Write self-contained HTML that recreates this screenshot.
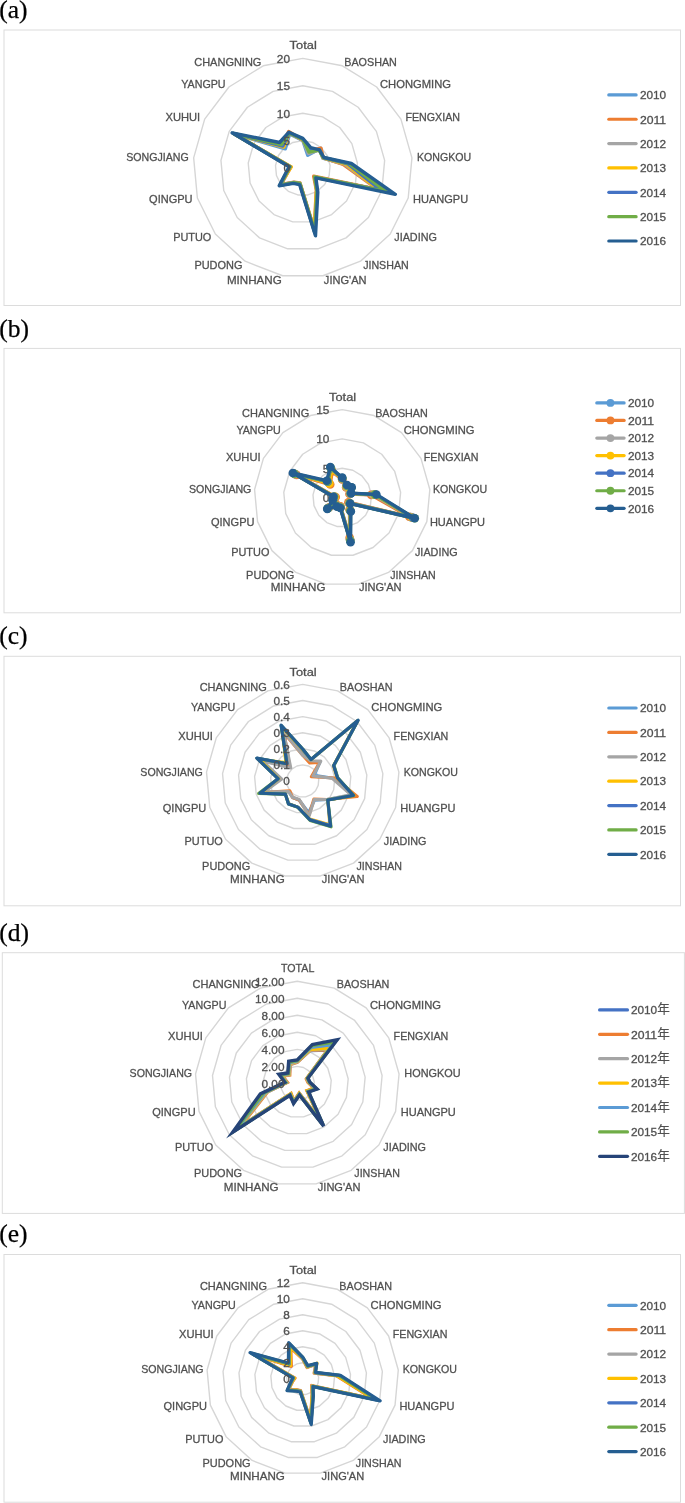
<!DOCTYPE html>
<html lang="en"><head><meta charset="utf-8"><title>Radar charts (a)-(e)</title>
<style>html,body{margin:0;padding:0;background:#fff}svg{display:block}</style></head><body>
<svg width="685" height="1503" viewBox="0 0 685 1503">
<rect width="685" height="1503" fill="#fff"/>
<rect x="4" y="30" width="676.5" height="275.5" fill="#fff" stroke="#DCDCDC" stroke-width="1"/>
<text x="-0.70" y="18.10" font-size="25.5" font-family='"Liberation Serif", serif' fill="#000" stroke="#000" stroke-width="0.25" text-anchor="start">(a)</text>
<polygon points="302.80,140.60 312.70,142.45 321.26,147.75 327.33,155.79 330.08,165.47 329.15,175.50 324.67,184.51 317.22,191.30 307.83,194.93 297.77,194.93 288.38,191.30 280.93,184.51 276.45,175.50 275.52,165.47 278.27,155.79 284.34,147.75 292.90,142.45" fill="none" stroke="#D6D6D6" stroke-width="1.4" stroke-linejoin="round"/>
<polygon points="302.80,113.20 322.60,116.90 339.72,127.50 351.85,143.57 357.37,162.94 355.51,183.00 346.53,201.02 331.65,214.59 312.87,221.87 292.73,221.87 273.95,214.59 259.07,201.02 250.09,183.00 248.23,162.94 253.75,143.57 265.88,127.50 283.00,116.90" fill="none" stroke="#D6D6D6" stroke-width="1.4" stroke-linejoin="round"/>
<polygon points="302.80,85.80 332.49,91.35 358.18,107.25 376.38,131.36 384.65,160.42 381.86,190.50 368.40,217.54 346.07,237.89 317.90,248.80 287.70,248.80 259.53,237.89 237.20,217.54 223.74,190.50 220.95,160.42 229.22,131.36 247.42,107.25 273.11,91.35" fill="none" stroke="#D6D6D6" stroke-width="1.4" stroke-linejoin="round"/>
<polygon points="302.80,58.40 342.39,65.80 376.64,87.00 400.91,119.15 411.93,157.89 408.22,197.99 390.26,234.05 360.50,261.18 322.94,275.73 282.66,275.73 245.10,261.18 215.34,234.05 197.38,197.99 193.67,157.89 204.69,119.15 228.96,87.00 263.21,65.80" fill="none" stroke="#D6D6D6" stroke-width="1.4" stroke-linejoin="round"/>
<polygon points="302.80,140.48 307.71,155.33 320.74,148.32 322.84,158.02 344.08,164.17 379.58,189.84 314.61,176.92 316.75,190.53 314.60,231.12 299.93,183.36 293.95,182.30 280.84,184.58 287.28,172.42 290.25,166.84 234.28,133.88 285.36,148.86 289.64,134.02" fill="none" stroke="#5B9BD5" stroke-width="3.4" stroke-linejoin="round" stroke-miterlimit="8"/>
<polygon points="302.80,140.18 309.53,150.63 320.91,148.14 323.26,157.81 343.11,164.26 377.73,189.32 313.69,176.22 316.30,189.81 314.22,229.09 299.99,183.03 294.04,182.15 281.07,184.41 287.96,172.22 291.07,166.91 234.28,133.88 281.87,145.04 288.67,131.51" fill="none" stroke="#ED7D31" stroke-width="3.4" stroke-linejoin="round" stroke-miterlimit="8"/>
<polygon points="302.80,139.89 308.50,153.28 319.41,149.78 322.84,158.02 344.56,164.13 378.65,189.58 314.87,177.11 316.75,190.53 314.60,231.12 299.90,183.53 293.85,182.45 280.60,184.76 287.28,172.42 290.25,166.84 233.57,133.53 283.26,146.57 289.50,133.66" fill="none" stroke="#A5A5A5" stroke-width="3.4" stroke-linejoin="round" stroke-miterlimit="8"/>
<polygon points="302.80,139.59 309.77,150.01 319.41,149.78 323.26,157.81 346.02,163.99 378.65,189.58 315.00,177.21 316.60,190.29 314.47,230.44 299.83,183.86 293.76,182.61 280.37,184.94 287.62,172.32 291.20,166.93 233.93,133.71 283.73,147.08 289.36,133.30" fill="none" stroke="#FFC000" stroke-width="3.4" stroke-linejoin="round" stroke-miterlimit="8"/>
<polygon points="302.80,139.30 310.08,149.20 319.41,149.78 323.47,157.71 347.96,163.81 380.96,190.24 315.26,177.41 317.20,191.26 314.98,233.16 299.80,184.03 293.66,182.76 280.13,185.12 286.78,172.56 289.98,166.81 233.22,133.35 282.80,146.06 289.36,133.30" fill="none" stroke="#4472C4" stroke-width="3.4" stroke-linejoin="round" stroke-miterlimit="8"/>
<polygon points="302.80,139.00 308.98,152.06 319.08,150.14 323.47,157.71 349.42,163.68 386.05,191.69 314.61,176.92 317.05,191.02 314.85,232.48 299.90,183.53 293.76,182.61 279.89,185.30 286.78,172.56 289.84,166.80 233.22,133.35 281.40,144.53 289.22,132.95" fill="none" stroke="#70AD47" stroke-width="3.4" stroke-linejoin="round" stroke-miterlimit="8"/>
<polygon points="302.80,138.41 310.72,147.56 319.41,149.78 323.89,157.50 351.36,163.50 395.30,194.32 315.92,177.91 317.80,192.23 315.49,235.87 299.68,184.70 293.28,183.38 279.19,185.83 285.93,172.80 289.16,166.74 232.16,132.83 279.54,142.49 288.94,132.23" fill="none" stroke="#255E91" stroke-width="3.4" stroke-linejoin="round" stroke-miterlimit="8"/>
<text x="290.00" y="172.30" font-size="11.8" font-family='"Liberation Sans", sans-serif' fill="#505050" stroke="#505050" stroke-width="0.3" text-anchor="end" textLength="6.56" lengthAdjust="spacingAndGlyphs">0</text>
<text x="290.00" y="144.90" font-size="11.8" font-family='"Liberation Sans", sans-serif' fill="#505050" stroke="#505050" stroke-width="0.3" text-anchor="end" textLength="6.56" lengthAdjust="spacingAndGlyphs">5</text>
<text x="290.00" y="117.50" font-size="11.8" font-family='"Liberation Sans", sans-serif' fill="#505050" stroke="#505050" stroke-width="0.3" text-anchor="end" textLength="13.13" lengthAdjust="spacingAndGlyphs">10</text>
<text x="290.00" y="90.10" font-size="11.8" font-family='"Liberation Sans", sans-serif' fill="#505050" stroke="#505050" stroke-width="0.3" text-anchor="end" textLength="13.13" lengthAdjust="spacingAndGlyphs">15</text>
<text x="290.00" y="62.70" font-size="11.8" font-family='"Liberation Sans", sans-serif' fill="#505050" stroke="#505050" stroke-width="0.3" text-anchor="end" textLength="13.13" lengthAdjust="spacingAndGlyphs">20</text>
<text x="303.20" y="48.80" font-size="11.8" font-family='"Liberation Sans", sans-serif' fill="#505050" stroke="#505050" stroke-width="0.3" text-anchor="middle" textLength="27.12" lengthAdjust="spacingAndGlyphs">Total</text>
<text x="344.20" y="65.50" font-size="11.8" font-family='"Liberation Sans", sans-serif' fill="#505050" stroke="#505050" stroke-width="0.3" text-anchor="start" textLength="52.71" lengthAdjust="spacingAndGlyphs">BAOSHAN</text>
<text x="380.01" y="87.55" font-size="11.8" font-family='"Liberation Sans", sans-serif' fill="#505050" stroke="#505050" stroke-width="0.3" text-anchor="start" textLength="70.94" lengthAdjust="spacingAndGlyphs">CHONGMING</text>
<text x="405.39" y="120.99" font-size="11.8" font-family='"Liberation Sans", sans-serif' fill="#505050" stroke="#505050" stroke-width="0.3" text-anchor="start" textLength="54.64" lengthAdjust="spacingAndGlyphs">FENGXIAN</text>
<text x="416.91" y="161.28" font-size="11.8" font-family='"Liberation Sans", sans-serif' fill="#505050" stroke="#505050" stroke-width="0.3" text-anchor="start" textLength="54.22" lengthAdjust="spacingAndGlyphs">KONGKOU</text>
<text x="413.03" y="203.00" font-size="11.8" font-family='"Liberation Sans", sans-serif' fill="#505050" stroke="#505050" stroke-width="0.3" text-anchor="start" textLength="55.12" lengthAdjust="spacingAndGlyphs">HUANGPU</text>
<text x="394.25" y="240.50" font-size="11.8" font-family='"Liberation Sans", sans-serif' fill="#505050" stroke="#505050" stroke-width="0.3" text-anchor="start" textLength="42.64" lengthAdjust="spacingAndGlyphs">JIADING</text>
<text x="363.13" y="268.72" font-size="11.8" font-family='"Liberation Sans", sans-serif' fill="#505050" stroke="#505050" stroke-width="0.3" text-anchor="start" textLength="45.62" lengthAdjust="spacingAndGlyphs">JINSHAN</text>
<text x="323.86" y="283.86" font-size="11.8" font-family='"Liberation Sans", sans-serif' fill="#505050" stroke="#505050" stroke-width="0.3" text-anchor="start" textLength="42.63" lengthAdjust="spacingAndGlyphs">JING'AN</text>
<text x="281.74" y="283.86" font-size="11.8" font-family='"Liberation Sans", sans-serif' fill="#505050" stroke="#505050" stroke-width="0.3" text-anchor="end" textLength="54.79" lengthAdjust="spacingAndGlyphs">MINHANG</text>
<text x="242.47" y="268.72" font-size="11.8" font-family='"Liberation Sans", sans-serif' fill="#505050" stroke="#505050" stroke-width="0.3" text-anchor="end" textLength="48.07" lengthAdjust="spacingAndGlyphs">PUDONG</text>
<text x="211.35" y="240.50" font-size="11.8" font-family='"Liberation Sans", sans-serif' fill="#505050" stroke="#505050" stroke-width="0.3" text-anchor="end" textLength="38.19" lengthAdjust="spacingAndGlyphs">PUTUO</text>
<text x="192.57" y="203.00" font-size="11.8" font-family='"Liberation Sans", sans-serif' fill="#505050" stroke="#505050" stroke-width="0.3" text-anchor="end" textLength="43.51" lengthAdjust="spacingAndGlyphs">QINGPU</text>
<text x="188.69" y="161.28" font-size="11.8" font-family='"Liberation Sans", sans-serif' fill="#505050" stroke="#505050" stroke-width="0.3" text-anchor="end" textLength="62.47" lengthAdjust="spacingAndGlyphs">SONGJIANG</text>
<text x="200.21" y="120.99" font-size="11.8" font-family='"Liberation Sans", sans-serif' fill="#505050" stroke="#505050" stroke-width="0.3" text-anchor="end" textLength="34.67" lengthAdjust="spacingAndGlyphs">XUHUI</text>
<text x="225.59" y="87.55" font-size="11.8" font-family='"Liberation Sans", sans-serif' fill="#505050" stroke="#505050" stroke-width="0.3" text-anchor="end" textLength="44.37" lengthAdjust="spacingAndGlyphs">YANGPU</text>
<text x="261.40" y="65.50" font-size="11.8" font-family='"Liberation Sans", sans-serif' fill="#505050" stroke="#505050" stroke-width="0.3" text-anchor="end" textLength="67.15" lengthAdjust="spacingAndGlyphs">CHANGNING</text>
<line x1="608.8" y1="94.90" x2="636.1" y2="94.90" stroke="#5B9BD5" stroke-width="3.2" stroke-linecap="round"/>
<text x="639.90" y="99.20" font-size="11.8" font-family='"Liberation Sans", sans-serif' fill="#505050" stroke="#505050" stroke-width="0.3" text-anchor="start" textLength="26.26" lengthAdjust="spacingAndGlyphs">2010</text>
<line x1="608.8" y1="119.25" x2="636.1" y2="119.25" stroke="#ED7D31" stroke-width="3.2" stroke-linecap="round"/>
<text x="639.90" y="123.55" font-size="11.8" font-family='"Liberation Sans", sans-serif' fill="#505050" stroke="#505050" stroke-width="0.3" text-anchor="start" textLength="26.26" lengthAdjust="spacingAndGlyphs">2011</text>
<line x1="608.8" y1="143.60" x2="636.1" y2="143.60" stroke="#A5A5A5" stroke-width="3.2" stroke-linecap="round"/>
<text x="639.90" y="147.90" font-size="11.8" font-family='"Liberation Sans", sans-serif' fill="#505050" stroke="#505050" stroke-width="0.3" text-anchor="start" textLength="26.26" lengthAdjust="spacingAndGlyphs">2012</text>
<line x1="608.8" y1="167.95" x2="636.1" y2="167.95" stroke="#FFC000" stroke-width="3.2" stroke-linecap="round"/>
<text x="639.90" y="172.25" font-size="11.8" font-family='"Liberation Sans", sans-serif' fill="#505050" stroke="#505050" stroke-width="0.3" text-anchor="start" textLength="26.26" lengthAdjust="spacingAndGlyphs">2013</text>
<line x1="608.8" y1="192.30" x2="636.1" y2="192.30" stroke="#4472C4" stroke-width="3.2" stroke-linecap="round"/>
<text x="639.90" y="196.60" font-size="11.8" font-family='"Liberation Sans", sans-serif' fill="#505050" stroke="#505050" stroke-width="0.3" text-anchor="start" textLength="26.26" lengthAdjust="spacingAndGlyphs">2014</text>
<line x1="608.8" y1="216.65" x2="636.1" y2="216.65" stroke="#70AD47" stroke-width="3.2" stroke-linecap="round"/>
<text x="639.90" y="220.95" font-size="11.8" font-family='"Liberation Sans", sans-serif' fill="#505050" stroke="#505050" stroke-width="0.3" text-anchor="start" textLength="26.26" lengthAdjust="spacingAndGlyphs">2015</text>
<line x1="608.8" y1="241.00" x2="636.1" y2="241.00" stroke="#255E91" stroke-width="3.2" stroke-linecap="round"/>
<text x="639.90" y="245.30" font-size="11.8" font-family='"Liberation Sans", sans-serif' fill="#505050" stroke="#505050" stroke-width="0.3" text-anchor="start" textLength="26.26" lengthAdjust="spacingAndGlyphs">2016</text>
<rect x="4" y="348.4" width="676.5" height="264.4" fill="#fff" stroke="#DCDCDC" stroke-width="1"/>
<text x="-0.70" y="336.50" font-size="25.5" font-family='"Liberation Serif", serif' fill="#000" stroke="#000" stroke-width="0.25" text-anchor="start">(b)</text>
<polygon points="342.20,468.27 352.80,470.25 361.96,475.92 368.46,484.53 371.41,494.89 370.41,505.63 365.61,515.28 357.64,522.54 347.59,526.43 336.81,526.43 326.76,522.54 318.79,515.28 313.99,505.63 312.99,494.89 315.94,484.53 322.44,475.92 331.60,470.25" fill="none" stroke="#D6D6D6" stroke-width="1.4" stroke-linejoin="round"/>
<polygon points="342.20,438.93 363.39,442.89 381.72,454.24 394.72,471.45 400.62,492.19 398.63,513.65 389.02,532.95 373.08,547.48 352.98,555.27 331.42,555.27 311.32,547.48 295.38,532.95 285.77,513.65 283.78,492.19 289.68,471.45 302.68,454.24 321.01,442.89" fill="none" stroke="#D6D6D6" stroke-width="1.4" stroke-linejoin="round"/>
<polygon points="342.20,409.60 373.99,415.54 401.49,432.57 420.97,458.38 429.82,489.48 426.84,521.68 412.43,550.63 388.53,572.42 358.37,584.10 326.03,584.10 295.87,572.42 271.97,550.63 257.56,521.68 254.58,489.48 263.43,458.38 282.91,432.57 310.41,415.54" fill="none" stroke="#D6D6D6" stroke-width="1.4" stroke-linejoin="round"/>
<text x="329.40" y="501.90" font-size="11.8" font-family='"Liberation Sans", sans-serif' fill="#505050" stroke="#505050" stroke-width="0.3" text-anchor="end" textLength="6.56" lengthAdjust="spacingAndGlyphs">0</text>
<text x="329.40" y="472.57" font-size="11.8" font-family='"Liberation Sans", sans-serif' fill="#505050" stroke="#505050" stroke-width="0.3" text-anchor="end" textLength="6.56" lengthAdjust="spacingAndGlyphs">5</text>
<text x="329.40" y="443.23" font-size="11.8" font-family='"Liberation Sans", sans-serif' fill="#505050" stroke="#505050" stroke-width="0.3" text-anchor="end" textLength="13.13" lengthAdjust="spacingAndGlyphs">10</text>
<text x="329.40" y="413.90" font-size="11.8" font-family='"Liberation Sans", sans-serif' fill="#505050" stroke="#505050" stroke-width="0.3" text-anchor="end" textLength="13.13" lengthAdjust="spacingAndGlyphs">15</text>
<polygon points="342.20,479.15 346.34,486.91 350.97,487.98 350.12,493.65 372.53,494.79 410.90,517.15 348.97,502.71 349.87,510.00 349.93,538.94 340.48,506.81 337.27,505.57 328.90,507.64 334.05,499.92 335.08,496.94 295.80,474.49 329.10,483.23 331.67,470.41" fill="none" stroke="#5B9BD5" stroke-width="3.4" stroke-linejoin="round" stroke-miterlimit="8"/>
<circle cx="342.20" cy="479.15" r="4.3" fill="#5B9BD5"/>
<circle cx="346.34" cy="486.91" r="4.3" fill="#5B9BD5"/>
<circle cx="350.97" cy="487.98" r="4.3" fill="#5B9BD5"/>
<circle cx="350.12" cy="493.65" r="4.3" fill="#5B9BD5"/>
<circle cx="372.53" cy="494.79" r="4.3" fill="#5B9BD5"/>
<circle cx="410.90" cy="517.15" r="4.3" fill="#5B9BD5"/>
<circle cx="348.97" cy="502.71" r="4.3" fill="#5B9BD5"/>
<circle cx="349.87" cy="510.00" r="4.3" fill="#5B9BD5"/>
<circle cx="349.93" cy="538.94" r="4.3" fill="#5B9BD5"/>
<circle cx="340.48" cy="506.81" r="4.3" fill="#5B9BD5"/>
<circle cx="337.27" cy="505.57" r="4.3" fill="#5B9BD5"/>
<circle cx="328.90" cy="507.64" r="4.3" fill="#5B9BD5"/>
<circle cx="334.05" cy="499.92" r="4.3" fill="#5B9BD5"/>
<circle cx="335.08" cy="496.94" r="4.3" fill="#5B9BD5"/>
<circle cx="295.80" cy="474.49" r="4.3" fill="#5B9BD5"/>
<circle cx="329.10" cy="483.23" r="4.3" fill="#5B9BD5"/>
<circle cx="331.67" cy="470.41" r="4.3" fill="#5B9BD5"/>
<polygon points="342.20,479.45 346.16,487.38 350.62,488.37 349.45,493.99 371.25,494.91 409.27,516.68 348.37,502.26 349.55,509.47 349.68,537.60 340.55,506.42 337.47,505.23 328.90,507.64 334.41,499.82 335.74,497.00 296.54,474.86 330.25,484.50 332.11,471.56" fill="none" stroke="#ED7D31" stroke-width="3.4" stroke-linejoin="round" stroke-miterlimit="8"/>
<circle cx="342.20" cy="479.45" r="4.3" fill="#ED7D31"/>
<circle cx="346.16" cy="487.38" r="4.3" fill="#ED7D31"/>
<circle cx="350.62" cy="488.37" r="4.3" fill="#ED7D31"/>
<circle cx="349.45" cy="493.99" r="4.3" fill="#ED7D31"/>
<circle cx="371.25" cy="494.91" r="4.3" fill="#ED7D31"/>
<circle cx="409.27" cy="516.68" r="4.3" fill="#ED7D31"/>
<circle cx="348.37" cy="502.26" r="4.3" fill="#ED7D31"/>
<circle cx="349.55" cy="509.47" r="4.3" fill="#ED7D31"/>
<circle cx="349.68" cy="537.60" r="4.3" fill="#ED7D31"/>
<circle cx="340.55" cy="506.42" r="4.3" fill="#ED7D31"/>
<circle cx="337.47" cy="505.23" r="4.3" fill="#ED7D31"/>
<circle cx="328.90" cy="507.64" r="4.3" fill="#ED7D31"/>
<circle cx="334.41" cy="499.82" r="4.3" fill="#ED7D31"/>
<circle cx="335.74" cy="497.00" r="4.3" fill="#ED7D31"/>
<circle cx="296.54" cy="474.86" r="4.3" fill="#ED7D31"/>
<circle cx="330.25" cy="484.50" r="4.3" fill="#ED7D31"/>
<circle cx="332.11" cy="471.56" r="4.3" fill="#ED7D31"/>
<polygon points="342.20,478.85 346.34,486.91 350.97,487.98 350.12,493.65 373.30,494.72 411.45,517.30 349.26,502.93 350.07,510.31 350.05,539.61 340.43,507.05 337.14,505.77 328.34,508.06 333.69,500.02 334.75,496.91 295.06,474.13 328.87,482.97 331.40,469.72" fill="none" stroke="#A5A5A5" stroke-width="3.4" stroke-linejoin="round" stroke-miterlimit="8"/>
<circle cx="342.20" cy="478.85" r="4.3" fill="#A5A5A5"/>
<circle cx="346.34" cy="486.91" r="4.3" fill="#A5A5A5"/>
<circle cx="350.97" cy="487.98" r="4.3" fill="#A5A5A5"/>
<circle cx="350.12" cy="493.65" r="4.3" fill="#A5A5A5"/>
<circle cx="373.30" cy="494.72" r="4.3" fill="#A5A5A5"/>
<circle cx="411.45" cy="517.30" r="4.3" fill="#A5A5A5"/>
<circle cx="349.26" cy="502.93" r="4.3" fill="#A5A5A5"/>
<circle cx="350.07" cy="510.31" r="4.3" fill="#A5A5A5"/>
<circle cx="350.05" cy="539.61" r="4.3" fill="#A5A5A5"/>
<circle cx="340.43" cy="507.05" r="4.3" fill="#A5A5A5"/>
<circle cx="337.14" cy="505.77" r="4.3" fill="#A5A5A5"/>
<circle cx="328.34" cy="508.06" r="4.3" fill="#A5A5A5"/>
<circle cx="333.69" cy="500.02" r="4.3" fill="#A5A5A5"/>
<circle cx="334.75" cy="496.91" r="4.3" fill="#A5A5A5"/>
<circle cx="295.06" cy="474.13" r="4.3" fill="#A5A5A5"/>
<circle cx="328.87" cy="482.97" r="4.3" fill="#A5A5A5"/>
<circle cx="331.40" cy="469.72" r="4.3" fill="#A5A5A5"/>
<polygon points="342.20,478.70 346.53,486.43 351.12,487.82 350.32,493.55 374.58,494.60 411.99,517.46 349.44,503.07 350.07,510.31 350.05,539.61 340.41,507.20 337.06,505.90 328.34,508.06 333.69,500.02 334.88,496.92 294.32,473.76 329.33,483.48 331.58,470.18" fill="none" stroke="#FFC000" stroke-width="3.4" stroke-linejoin="round" stroke-miterlimit="8"/>
<circle cx="342.20" cy="478.70" r="4.3" fill="#FFC000"/>
<circle cx="346.53" cy="486.43" r="4.3" fill="#FFC000"/>
<circle cx="351.12" cy="487.82" r="4.3" fill="#FFC000"/>
<circle cx="350.32" cy="493.55" r="4.3" fill="#FFC000"/>
<circle cx="374.58" cy="494.60" r="4.3" fill="#FFC000"/>
<circle cx="411.99" cy="517.46" r="4.3" fill="#FFC000"/>
<circle cx="349.44" cy="503.07" r="4.3" fill="#FFC000"/>
<circle cx="350.07" cy="510.31" r="4.3" fill="#FFC000"/>
<circle cx="350.05" cy="539.61" r="4.3" fill="#FFC000"/>
<circle cx="340.41" cy="507.20" r="4.3" fill="#FFC000"/>
<circle cx="337.06" cy="505.90" r="4.3" fill="#FFC000"/>
<circle cx="328.34" cy="508.06" r="4.3" fill="#FFC000"/>
<circle cx="333.69" cy="500.02" r="4.3" fill="#FFC000"/>
<circle cx="334.88" cy="496.92" r="4.3" fill="#FFC000"/>
<circle cx="294.32" cy="473.76" r="4.3" fill="#FFC000"/>
<circle cx="329.33" cy="483.48" r="4.3" fill="#FFC000"/>
<circle cx="331.58" cy="470.18" r="4.3" fill="#FFC000"/>
<polygon points="342.20,478.25 346.78,485.77 351.33,487.58 350.59,493.42 375.35,494.53 413.08,517.77 349.68,503.25 350.39,510.83 350.24,540.62 340.36,507.44 336.93,506.11 327.78,508.49 333.18,500.17 334.09,496.85 293.95,473.57 327.71,481.71 330.78,468.11" fill="none" stroke="#4472C4" stroke-width="3.4" stroke-linejoin="round" stroke-miterlimit="8"/>
<circle cx="342.20" cy="478.25" r="4.3" fill="#4472C4"/>
<circle cx="346.78" cy="485.77" r="4.3" fill="#4472C4"/>
<circle cx="351.33" cy="487.58" r="4.3" fill="#4472C4"/>
<circle cx="350.59" cy="493.42" r="4.3" fill="#4472C4"/>
<circle cx="375.35" cy="494.53" r="4.3" fill="#4472C4"/>
<circle cx="413.08" cy="517.77" r="4.3" fill="#4472C4"/>
<circle cx="349.68" cy="503.25" r="4.3" fill="#4472C4"/>
<circle cx="350.39" cy="510.83" r="4.3" fill="#4472C4"/>
<circle cx="350.24" cy="540.62" r="4.3" fill="#4472C4"/>
<circle cx="340.36" cy="507.44" r="4.3" fill="#4472C4"/>
<circle cx="336.93" cy="506.11" r="4.3" fill="#4472C4"/>
<circle cx="327.78" cy="508.49" r="4.3" fill="#4472C4"/>
<circle cx="333.18" cy="500.17" r="4.3" fill="#4472C4"/>
<circle cx="334.09" cy="496.85" r="4.3" fill="#4472C4"/>
<circle cx="293.95" cy="473.57" r="4.3" fill="#4472C4"/>
<circle cx="327.71" cy="481.71" r="4.3" fill="#4472C4"/>
<circle cx="330.78" cy="468.11" r="4.3" fill="#4472C4"/>
<polygon points="342.20,477.95 346.89,485.49 351.47,487.43 350.79,493.32 374.84,494.58 414.71,518.23 349.86,503.38 350.52,511.04 350.30,540.95 340.33,507.59 336.85,506.24 327.56,508.66 332.97,500.23 333.77,496.82 294.32,473.76 327.36,481.33 330.60,467.65" fill="none" stroke="#70AD47" stroke-width="3.4" stroke-linejoin="round" stroke-miterlimit="8"/>
<circle cx="342.20" cy="477.95" r="4.3" fill="#70AD47"/>
<circle cx="346.89" cy="485.49" r="4.3" fill="#70AD47"/>
<circle cx="351.47" cy="487.43" r="4.3" fill="#70AD47"/>
<circle cx="350.79" cy="493.32" r="4.3" fill="#70AD47"/>
<circle cx="374.84" cy="494.58" r="4.3" fill="#70AD47"/>
<circle cx="414.71" cy="518.23" r="4.3" fill="#70AD47"/>
<circle cx="349.86" cy="503.38" r="4.3" fill="#70AD47"/>
<circle cx="350.52" cy="511.04" r="4.3" fill="#70AD47"/>
<circle cx="350.30" cy="540.95" r="4.3" fill="#70AD47"/>
<circle cx="340.33" cy="507.59" r="4.3" fill="#70AD47"/>
<circle cx="336.85" cy="506.24" r="4.3" fill="#70AD47"/>
<circle cx="327.56" cy="508.66" r="4.3" fill="#70AD47"/>
<circle cx="332.97" cy="500.23" r="4.3" fill="#70AD47"/>
<circle cx="333.77" cy="496.82" r="4.3" fill="#70AD47"/>
<circle cx="294.32" cy="473.76" r="4.3" fill="#70AD47"/>
<circle cx="327.36" cy="481.33" r="4.3" fill="#70AD47"/>
<circle cx="330.60" cy="467.65" r="4.3" fill="#70AD47"/>
<polygon points="342.20,477.65 347.07,485.02 351.69,487.19 351.13,493.15 376.37,494.43 414.71,518.23 350.16,503.61 350.85,511.57 350.55,542.29 340.26,507.98 336.64,506.58 327.22,508.91 332.61,500.33 333.44,496.79 292.83,473.02 326.79,480.69 330.33,466.97" fill="none" stroke="#255E91" stroke-width="3.4" stroke-linejoin="round" stroke-miterlimit="8"/>
<circle cx="342.20" cy="477.65" r="4.3" fill="#255E91"/>
<circle cx="347.07" cy="485.02" r="4.3" fill="#255E91"/>
<circle cx="351.69" cy="487.19" r="4.3" fill="#255E91"/>
<circle cx="351.13" cy="493.15" r="4.3" fill="#255E91"/>
<circle cx="376.37" cy="494.43" r="4.3" fill="#255E91"/>
<circle cx="414.71" cy="518.23" r="4.3" fill="#255E91"/>
<circle cx="350.16" cy="503.61" r="4.3" fill="#255E91"/>
<circle cx="350.85" cy="511.57" r="4.3" fill="#255E91"/>
<circle cx="350.55" cy="542.29" r="4.3" fill="#255E91"/>
<circle cx="340.26" cy="507.98" r="4.3" fill="#255E91"/>
<circle cx="336.64" cy="506.58" r="4.3" fill="#255E91"/>
<circle cx="327.22" cy="508.91" r="4.3" fill="#255E91"/>
<circle cx="332.61" cy="500.33" r="4.3" fill="#255E91"/>
<circle cx="333.44" cy="496.79" r="4.3" fill="#255E91"/>
<circle cx="292.83" cy="473.02" r="4.3" fill="#255E91"/>
<circle cx="326.79" cy="480.69" r="4.3" fill="#255E91"/>
<circle cx="330.33" cy="466.97" r="4.3" fill="#255E91"/>
<text x="342.60" y="401.30" font-size="11.8" font-family='"Liberation Sans", sans-serif' fill="#505050" stroke="#505050" stroke-width="0.3" text-anchor="middle" textLength="27.12" lengthAdjust="spacingAndGlyphs">Total</text>
<text x="375.15" y="416.73" font-size="11.8" font-family='"Liberation Sans", sans-serif' fill="#505050" stroke="#505050" stroke-width="0.3" text-anchor="start" textLength="52.71" lengthAdjust="spacingAndGlyphs">BAOSHAN</text>
<text x="403.64" y="434.30" font-size="11.8" font-family='"Liberation Sans", sans-serif' fill="#505050" stroke="#505050" stroke-width="0.3" text-anchor="start" textLength="70.94" lengthAdjust="spacingAndGlyphs">CHONGMING</text>
<text x="423.84" y="460.93" font-size="11.8" font-family='"Liberation Sans", sans-serif' fill="#505050" stroke="#505050" stroke-width="0.3" text-anchor="start" textLength="54.64" lengthAdjust="spacingAndGlyphs">FENGXIAN</text>
<text x="433.01" y="493.02" font-size="11.8" font-family='"Liberation Sans", sans-serif' fill="#505050" stroke="#505050" stroke-width="0.3" text-anchor="start" textLength="54.22" lengthAdjust="spacingAndGlyphs">KONGKOU</text>
<text x="429.92" y="526.25" font-size="11.8" font-family='"Liberation Sans", sans-serif' fill="#505050" stroke="#505050" stroke-width="0.3" text-anchor="start" textLength="55.12" lengthAdjust="spacingAndGlyphs">HUANGPU</text>
<text x="414.98" y="556.12" font-size="11.8" font-family='"Liberation Sans", sans-serif' fill="#505050" stroke="#505050" stroke-width="0.3" text-anchor="start" textLength="42.64" lengthAdjust="spacingAndGlyphs">JIADING</text>
<text x="390.21" y="578.60" font-size="11.8" font-family='"Liberation Sans", sans-serif' fill="#505050" stroke="#505050" stroke-width="0.3" text-anchor="start" textLength="45.62" lengthAdjust="spacingAndGlyphs">JINSHAN</text>
<text x="358.96" y="590.65" font-size="11.8" font-family='"Liberation Sans", sans-serif' fill="#505050" stroke="#505050" stroke-width="0.3" text-anchor="start" textLength="42.63" lengthAdjust="spacingAndGlyphs">JING'AN</text>
<text x="325.44" y="590.65" font-size="11.8" font-family='"Liberation Sans", sans-serif' fill="#505050" stroke="#505050" stroke-width="0.3" text-anchor="end" textLength="54.79" lengthAdjust="spacingAndGlyphs">MINHANG</text>
<text x="294.19" y="578.60" font-size="11.8" font-family='"Liberation Sans", sans-serif' fill="#505050" stroke="#505050" stroke-width="0.3" text-anchor="end" textLength="48.07" lengthAdjust="spacingAndGlyphs">PUDONG</text>
<text x="269.42" y="556.12" font-size="11.8" font-family='"Liberation Sans", sans-serif' fill="#505050" stroke="#505050" stroke-width="0.3" text-anchor="end" textLength="38.19" lengthAdjust="spacingAndGlyphs">PUTUO</text>
<text x="254.48" y="526.25" font-size="11.8" font-family='"Liberation Sans", sans-serif' fill="#505050" stroke="#505050" stroke-width="0.3" text-anchor="end" textLength="43.51" lengthAdjust="spacingAndGlyphs">QINGPU</text>
<text x="251.39" y="493.02" font-size="11.8" font-family='"Liberation Sans", sans-serif' fill="#505050" stroke="#505050" stroke-width="0.3" text-anchor="end" textLength="62.47" lengthAdjust="spacingAndGlyphs">SONGJIANG</text>
<text x="260.56" y="460.93" font-size="11.8" font-family='"Liberation Sans", sans-serif' fill="#505050" stroke="#505050" stroke-width="0.3" text-anchor="end" textLength="34.67" lengthAdjust="spacingAndGlyphs">XUHUI</text>
<text x="280.76" y="434.30" font-size="11.8" font-family='"Liberation Sans", sans-serif' fill="#505050" stroke="#505050" stroke-width="0.3" text-anchor="end" textLength="44.37" lengthAdjust="spacingAndGlyphs">YANGPU</text>
<text x="309.25" y="416.73" font-size="11.8" font-family='"Liberation Sans", sans-serif' fill="#505050" stroke="#505050" stroke-width="0.3" text-anchor="end" textLength="67.15" lengthAdjust="spacingAndGlyphs">CHANGNING</text>
<line x1="596.8" y1="402.90" x2="624.1" y2="402.90" stroke="#5B9BD5" stroke-width="3.2" stroke-linecap="round"/>
<circle cx="610.45" cy="402.90" r="3.9" fill="#5B9BD5"/>
<text x="627.90" y="407.20" font-size="11.8" font-family='"Liberation Sans", sans-serif' fill="#505050" stroke="#505050" stroke-width="0.3" text-anchor="start" textLength="26.26" lengthAdjust="spacingAndGlyphs">2010</text>
<line x1="596.8" y1="420.47" x2="624.1" y2="420.47" stroke="#ED7D31" stroke-width="3.2" stroke-linecap="round"/>
<circle cx="610.45" cy="420.47" r="3.9" fill="#ED7D31"/>
<text x="627.90" y="424.77" font-size="11.8" font-family='"Liberation Sans", sans-serif' fill="#505050" stroke="#505050" stroke-width="0.3" text-anchor="start" textLength="26.26" lengthAdjust="spacingAndGlyphs">2011</text>
<line x1="596.8" y1="438.04" x2="624.1" y2="438.04" stroke="#A5A5A5" stroke-width="3.2" stroke-linecap="round"/>
<circle cx="610.45" cy="438.04" r="3.9" fill="#A5A5A5"/>
<text x="627.90" y="442.34" font-size="11.8" font-family='"Liberation Sans", sans-serif' fill="#505050" stroke="#505050" stroke-width="0.3" text-anchor="start" textLength="26.26" lengthAdjust="spacingAndGlyphs">2012</text>
<line x1="596.8" y1="455.61" x2="624.1" y2="455.61" stroke="#FFC000" stroke-width="3.2" stroke-linecap="round"/>
<circle cx="610.45" cy="455.61" r="3.9" fill="#FFC000"/>
<text x="627.90" y="459.91" font-size="11.8" font-family='"Liberation Sans", sans-serif' fill="#505050" stroke="#505050" stroke-width="0.3" text-anchor="start" textLength="26.26" lengthAdjust="spacingAndGlyphs">2013</text>
<line x1="596.8" y1="473.18" x2="624.1" y2="473.18" stroke="#4472C4" stroke-width="3.2" stroke-linecap="round"/>
<circle cx="610.45" cy="473.18" r="3.9" fill="#4472C4"/>
<text x="627.90" y="477.48" font-size="11.8" font-family='"Liberation Sans", sans-serif' fill="#505050" stroke="#505050" stroke-width="0.3" text-anchor="start" textLength="26.26" lengthAdjust="spacingAndGlyphs">2014</text>
<line x1="596.8" y1="490.75" x2="624.1" y2="490.75" stroke="#70AD47" stroke-width="3.2" stroke-linecap="round"/>
<circle cx="610.45" cy="490.75" r="3.9" fill="#70AD47"/>
<text x="627.90" y="495.05" font-size="11.8" font-family='"Liberation Sans", sans-serif' fill="#505050" stroke="#505050" stroke-width="0.3" text-anchor="start" textLength="26.26" lengthAdjust="spacingAndGlyphs">2015</text>
<line x1="596.8" y1="508.32" x2="624.1" y2="508.32" stroke="#255E91" stroke-width="3.2" stroke-linecap="round"/>
<circle cx="610.45" cy="508.32" r="3.9" fill="#255E91"/>
<text x="627.90" y="512.62" font-size="11.8" font-family='"Liberation Sans", sans-serif' fill="#505050" stroke="#505050" stroke-width="0.3" text-anchor="start" textLength="26.26" lengthAdjust="spacingAndGlyphs">2016</text>
<rect x="4" y="656.3" width="676.5" height="249.5" fill="#fff" stroke="#DCDCDC" stroke-width="1"/>
<text x="-0.70" y="644.20" font-size="25.5" font-family='"Liberation Serif", serif' fill="#000" stroke="#000" stroke-width="0.25" text-anchor="start">(c)</text>
<polygon points="302.70,764.90 308.52,765.99 313.55,769.10 317.11,773.82 318.73,779.51 318.19,785.41 315.55,790.70 311.18,794.69 305.66,796.83 299.74,796.83 294.22,794.69 289.85,790.70 287.21,785.41 286.67,779.51 288.29,773.82 291.85,769.10 296.88,765.99" fill="none" stroke="#D6D6D6" stroke-width="1.4" stroke-linejoin="round"/>
<polygon points="302.70,748.80 314.33,750.97 324.39,757.20 331.52,766.65 334.76,778.03 333.67,789.81 328.40,800.40 319.65,808.38 308.62,812.65 296.78,812.65 285.75,808.38 277.00,800.40 271.73,789.81 270.64,778.03 273.88,766.65 281.01,757.20 291.07,750.97" fill="none" stroke="#D6D6D6" stroke-width="1.4" stroke-linejoin="round"/>
<polygon points="302.70,732.70 320.15,735.96 335.24,745.31 345.94,759.47 350.79,776.54 349.16,794.22 341.24,810.11 328.13,822.07 311.58,828.48 293.82,828.48 277.27,822.07 264.16,810.11 256.24,794.22 254.61,776.54 259.46,759.47 270.16,745.31 285.25,735.96" fill="none" stroke="#D6D6D6" stroke-width="1.4" stroke-linejoin="round"/>
<polygon points="302.70,716.60 325.96,720.95 346.09,733.41 360.35,752.29 366.83,775.06 364.64,798.62 354.09,819.81 336.60,835.75 314.53,844.30 290.87,844.30 268.80,835.75 251.31,819.81 240.76,798.62 238.57,775.06 245.05,752.29 259.31,733.41 279.44,720.95" fill="none" stroke="#D6D6D6" stroke-width="1.4" stroke-linejoin="round"/>
<polygon points="302.70,700.50 331.78,705.94 356.93,721.51 374.76,745.12 382.86,773.57 380.13,803.03 366.94,829.51 345.08,849.44 317.49,860.13 287.91,860.13 260.32,849.44 238.46,829.51 225.27,803.03 222.54,773.57 230.64,745.12 248.47,721.51 273.62,705.94" fill="none" stroke="#D6D6D6" stroke-width="1.4" stroke-linejoin="round"/>
<polygon points="302.70,684.40 337.60,690.92 367.78,709.61 389.17,737.94 398.89,772.09 395.61,807.44 379.79,839.21 353.55,863.13 320.45,875.96 284.95,875.96 251.85,863.13 225.61,839.21 209.79,807.44 206.51,772.09 216.23,737.94 237.62,709.61 267.80,690.92" fill="none" stroke="#D6D6D6" stroke-width="1.4" stroke-linejoin="round"/>
<polygon points="302.70,753.63 310.26,761.48 320.05,761.96 314.23,775.26 333.16,778.18 352.25,795.10 327.11,799.43 314.57,800.16 308.62,812.65 299.15,799.99 292.53,797.43 288.57,791.67 262.44,792.46 280.26,778.92 260.90,760.19 289.68,766.72 283.51,731.46" fill="none" stroke="#5B9BD5" stroke-width="3.1" stroke-linejoin="round" stroke-miterlimit="8"/>
<polygon points="302.70,755.24 309.68,762.98 319.51,762.56 311.35,776.69 334.76,778.03 357.21,796.51 327.11,799.43 313.89,799.07 309.06,815.03 299.15,799.99 292.53,797.43 289.85,790.70 262.44,792.46 280.26,778.92 260.90,760.19 289.68,766.72 284.09,732.96" fill="none" stroke="#ED7D31" stroke-width="3.1" stroke-linejoin="round" stroke-miterlimit="8"/>
<polygon points="302.70,755.24 310.55,760.73 320.81,761.13 312.93,775.90 332.20,778.27 350.70,794.66 327.11,799.43 314.23,799.62 309.21,815.82 299.24,799.52 292.61,797.29 288.70,791.58 263.99,792.01 281.86,779.07 262.35,760.91 290.77,767.91 283.51,731.46" fill="none" stroke="#A5A5A5" stroke-width="3.1" stroke-linejoin="round" stroke-miterlimit="8"/>
<polygon points="302.70,749.61 311.02,759.53 357.47,720.91 333.40,765.71 337.17,777.81 353.80,795.54 327.75,799.92 329.82,824.80 309.80,818.98 297.82,807.11 288.72,803.59 285.36,794.10 260.89,792.90 278.65,778.77 259.46,759.47 285.89,762.56 281.76,726.95" fill="none" stroke="#FFC000" stroke-width="3.1" stroke-linejoin="round" stroke-miterlimit="8"/>
<polygon points="302.70,749.28 311.02,759.53 357.80,720.56 333.69,765.57 337.49,777.78 353.03,795.32 327.75,799.92 330.25,825.49 309.89,819.46 297.82,807.11 288.63,803.72 285.36,794.10 260.12,793.12 278.33,778.74 257.30,758.39 286.97,763.75 281.30,725.75" fill="none" stroke="#4472C4" stroke-width="3.1" stroke-linejoin="round" stroke-miterlimit="8"/>
<polygon points="302.70,748.96 311.02,759.53 357.91,720.44 333.97,765.43 337.81,777.75 353.80,795.54 327.75,799.92 331.09,826.86 310.10,820.56 297.79,807.27 288.46,804.00 285.36,794.10 258.57,793.56 278.01,778.71 257.01,758.25 286.76,763.51 281.18,725.45" fill="none" stroke="#70AD47" stroke-width="3.1" stroke-linejoin="round" stroke-miterlimit="8"/>
<polygon points="302.70,748.96 311.02,759.53 358.13,720.20 333.69,765.57 337.49,777.78 353.34,795.41 327.75,799.92 330.67,826.17 309.98,819.93 297.82,807.11 288.46,804.00 285.36,794.10 259.81,793.20 278.01,778.71 256.73,758.11 286.97,763.75 281.06,725.15" fill="none" stroke="#255E91" stroke-width="3.1" stroke-linejoin="round" stroke-miterlimit="8"/>
<text x="289.90" y="785.30" font-size="11.8" font-family='"Liberation Sans", sans-serif' fill="#505050" stroke="#505050" stroke-width="0.3" text-anchor="end" textLength="6.56" lengthAdjust="spacingAndGlyphs">0</text>
<text x="289.90" y="769.20" font-size="11.8" font-family='"Liberation Sans", sans-serif' fill="#505050" stroke="#505050" stroke-width="0.3" text-anchor="end" textLength="16.40" lengthAdjust="spacingAndGlyphs">0.1</text>
<text x="289.90" y="753.10" font-size="11.8" font-family='"Liberation Sans", sans-serif' fill="#505050" stroke="#505050" stroke-width="0.3" text-anchor="end" textLength="16.40" lengthAdjust="spacingAndGlyphs">0.2</text>
<text x="289.90" y="737.00" font-size="11.8" font-family='"Liberation Sans", sans-serif' fill="#505050" stroke="#505050" stroke-width="0.3" text-anchor="end" textLength="16.40" lengthAdjust="spacingAndGlyphs">0.3</text>
<text x="289.90" y="720.90" font-size="11.8" font-family='"Liberation Sans", sans-serif' fill="#505050" stroke="#505050" stroke-width="0.3" text-anchor="end" textLength="16.40" lengthAdjust="spacingAndGlyphs">0.4</text>
<text x="289.90" y="704.80" font-size="11.8" font-family='"Liberation Sans", sans-serif' fill="#505050" stroke="#505050" stroke-width="0.3" text-anchor="end" textLength="16.40" lengthAdjust="spacingAndGlyphs">0.5</text>
<text x="289.90" y="688.70" font-size="11.8" font-family='"Liberation Sans", sans-serif' fill="#505050" stroke="#505050" stroke-width="0.3" text-anchor="end" textLength="16.40" lengthAdjust="spacingAndGlyphs">0.6</text>
<text x="303.10" y="675.50" font-size="11.8" font-family='"Liberation Sans", sans-serif' fill="#505050" stroke="#505050" stroke-width="0.3" text-anchor="middle" textLength="27.12" lengthAdjust="spacingAndGlyphs">Total</text>
<text x="339.75" y="691.27" font-size="11.8" font-family='"Liberation Sans", sans-serif' fill="#505050" stroke="#505050" stroke-width="0.3" text-anchor="start" textLength="52.71" lengthAdjust="spacingAndGlyphs">BAOSHAN</text>
<text x="371.28" y="710.68" font-size="11.8" font-family='"Liberation Sans", sans-serif' fill="#505050" stroke="#505050" stroke-width="0.3" text-anchor="start" textLength="70.94" lengthAdjust="spacingAndGlyphs">CHONGMING</text>
<text x="393.62" y="740.09" font-size="11.8" font-family='"Liberation Sans", sans-serif' fill="#505050" stroke="#505050" stroke-width="0.3" text-anchor="start" textLength="54.64" lengthAdjust="spacingAndGlyphs">FENGXIAN</text>
<text x="403.77" y="775.55" font-size="11.8" font-family='"Liberation Sans", sans-serif' fill="#505050" stroke="#505050" stroke-width="0.3" text-anchor="start" textLength="54.22" lengthAdjust="spacingAndGlyphs">KONGKOU</text>
<text x="400.35" y="812.25" font-size="11.8" font-family='"Liberation Sans", sans-serif' fill="#505050" stroke="#505050" stroke-width="0.3" text-anchor="start" textLength="55.12" lengthAdjust="spacingAndGlyphs">HUANGPU</text>
<text x="383.82" y="845.24" font-size="11.8" font-family='"Liberation Sans", sans-serif' fill="#505050" stroke="#505050" stroke-width="0.3" text-anchor="start" textLength="42.64" lengthAdjust="spacingAndGlyphs">JIADING</text>
<text x="356.42" y="870.08" font-size="11.8" font-family='"Liberation Sans", sans-serif' fill="#505050" stroke="#505050" stroke-width="0.3" text-anchor="start" textLength="45.62" lengthAdjust="spacingAndGlyphs">JINSHAN</text>
<text x="321.84" y="883.39" font-size="11.8" font-family='"Liberation Sans", sans-serif' fill="#505050" stroke="#505050" stroke-width="0.3" text-anchor="start" textLength="42.63" lengthAdjust="spacingAndGlyphs">JING'AN</text>
<text x="284.76" y="883.39" font-size="11.8" font-family='"Liberation Sans", sans-serif' fill="#505050" stroke="#505050" stroke-width="0.3" text-anchor="end" textLength="54.79" lengthAdjust="spacingAndGlyphs">MINHANG</text>
<text x="250.18" y="870.08" font-size="11.8" font-family='"Liberation Sans", sans-serif' fill="#505050" stroke="#505050" stroke-width="0.3" text-anchor="end" textLength="48.07" lengthAdjust="spacingAndGlyphs">PUDONG</text>
<text x="222.78" y="845.24" font-size="11.8" font-family='"Liberation Sans", sans-serif' fill="#505050" stroke="#505050" stroke-width="0.3" text-anchor="end" textLength="38.19" lengthAdjust="spacingAndGlyphs">PUTUO</text>
<text x="206.25" y="812.25" font-size="11.8" font-family='"Liberation Sans", sans-serif' fill="#505050" stroke="#505050" stroke-width="0.3" text-anchor="end" textLength="43.51" lengthAdjust="spacingAndGlyphs">QINGPU</text>
<text x="202.83" y="775.55" font-size="11.8" font-family='"Liberation Sans", sans-serif' fill="#505050" stroke="#505050" stroke-width="0.3" text-anchor="end" textLength="62.47" lengthAdjust="spacingAndGlyphs">SONGJIANG</text>
<text x="212.98" y="740.09" font-size="11.8" font-family='"Liberation Sans", sans-serif' fill="#505050" stroke="#505050" stroke-width="0.3" text-anchor="end" textLength="34.67" lengthAdjust="spacingAndGlyphs">XUHUI</text>
<text x="235.32" y="710.68" font-size="11.8" font-family='"Liberation Sans", sans-serif' fill="#505050" stroke="#505050" stroke-width="0.3" text-anchor="end" textLength="44.37" lengthAdjust="spacingAndGlyphs">YANGPU</text>
<text x="266.85" y="691.27" font-size="11.8" font-family='"Liberation Sans", sans-serif' fill="#505050" stroke="#505050" stroke-width="0.3" text-anchor="end" textLength="67.15" lengthAdjust="spacingAndGlyphs">CHANGNING</text>
<line x1="608.8" y1="708.00" x2="636.1" y2="708.00" stroke="#5B9BD5" stroke-width="3.2" stroke-linecap="round"/>
<text x="639.90" y="712.30" font-size="11.8" font-family='"Liberation Sans", sans-serif' fill="#505050" stroke="#505050" stroke-width="0.3" text-anchor="start" textLength="26.26" lengthAdjust="spacingAndGlyphs">2010</text>
<line x1="608.8" y1="732.39" x2="636.1" y2="732.39" stroke="#ED7D31" stroke-width="3.2" stroke-linecap="round"/>
<text x="639.90" y="736.69" font-size="11.8" font-family='"Liberation Sans", sans-serif' fill="#505050" stroke="#505050" stroke-width="0.3" text-anchor="start" textLength="26.26" lengthAdjust="spacingAndGlyphs">2011</text>
<line x1="608.8" y1="756.78" x2="636.1" y2="756.78" stroke="#A5A5A5" stroke-width="3.2" stroke-linecap="round"/>
<text x="639.90" y="761.08" font-size="11.8" font-family='"Liberation Sans", sans-serif' fill="#505050" stroke="#505050" stroke-width="0.3" text-anchor="start" textLength="26.26" lengthAdjust="spacingAndGlyphs">2012</text>
<line x1="608.8" y1="781.17" x2="636.1" y2="781.17" stroke="#FFC000" stroke-width="3.2" stroke-linecap="round"/>
<text x="639.90" y="785.47" font-size="11.8" font-family='"Liberation Sans", sans-serif' fill="#505050" stroke="#505050" stroke-width="0.3" text-anchor="start" textLength="26.26" lengthAdjust="spacingAndGlyphs">2013</text>
<line x1="608.8" y1="805.56" x2="636.1" y2="805.56" stroke="#4472C4" stroke-width="3.2" stroke-linecap="round"/>
<text x="639.90" y="809.86" font-size="11.8" font-family='"Liberation Sans", sans-serif' fill="#505050" stroke="#505050" stroke-width="0.3" text-anchor="start" textLength="26.26" lengthAdjust="spacingAndGlyphs">2014</text>
<line x1="608.8" y1="829.95" x2="636.1" y2="829.95" stroke="#70AD47" stroke-width="3.2" stroke-linecap="round"/>
<text x="639.90" y="834.25" font-size="11.8" font-family='"Liberation Sans", sans-serif' fill="#505050" stroke="#505050" stroke-width="0.3" text-anchor="start" textLength="26.26" lengthAdjust="spacingAndGlyphs">2015</text>
<line x1="608.8" y1="854.34" x2="636.1" y2="854.34" stroke="#255E91" stroke-width="3.2" stroke-linecap="round"/>
<text x="639.90" y="858.64" font-size="11.8" font-family='"Liberation Sans", sans-serif' fill="#505050" stroke="#505050" stroke-width="0.3" text-anchor="start" textLength="26.26" lengthAdjust="spacingAndGlyphs">2016</text>
<rect x="2.3" y="952.7" width="682.1" height="260.70000000000005" fill="#fff" stroke="#DCDCDC" stroke-width="1"/>
<text x="-0.70" y="940.80" font-size="25.5" font-family='"Liberation Serif", serif' fill="#000" stroke="#000" stroke-width="0.25" text-anchor="start">(d)</text>
<polygon points="297.30,1066.37 303.45,1067.52 308.78,1070.81 312.55,1075.81 314.26,1081.83 313.68,1088.06 310.89,1093.66 306.27,1097.88 300.43,1100.14 294.17,1100.14 288.33,1097.88 283.71,1093.66 280.92,1088.06 280.34,1081.83 282.05,1075.81 285.82,1070.81 291.15,1067.52" fill="none" stroke="#D6D6D6" stroke-width="1.4" stroke-linejoin="round"/>
<polygon points="297.30,1049.33 309.61,1051.63 320.25,1058.22 327.80,1068.22 331.22,1080.26 330.07,1092.72 324.49,1103.93 315.23,1112.36 303.56,1116.89 291.04,1116.89 279.37,1112.36 270.11,1103.93 264.53,1092.72 263.38,1080.26 266.80,1068.22 274.35,1058.22 284.99,1051.63" fill="none" stroke="#D6D6D6" stroke-width="1.4" stroke-linejoin="round"/>
<polygon points="297.30,1032.30 315.76,1035.75 331.73,1045.64 343.04,1060.62 348.18,1078.69 346.45,1097.38 338.08,1114.19 324.20,1126.85 306.69,1133.63 287.91,1133.63 270.40,1126.85 256.52,1114.19 248.15,1097.38 246.42,1078.69 251.56,1060.62 262.87,1045.64 278.84,1035.75" fill="none" stroke="#D6D6D6" stroke-width="1.4" stroke-linejoin="round"/>
<polygon points="297.30,1015.27 321.91,1019.87 343.20,1033.05 358.29,1053.03 365.14,1077.11 362.83,1102.05 351.67,1124.46 333.17,1141.33 309.82,1150.37 284.78,1150.37 261.43,1141.33 242.93,1124.46 231.77,1102.05 229.46,1077.11 236.31,1053.03 251.40,1033.05 272.69,1019.87" fill="none" stroke="#D6D6D6" stroke-width="1.4" stroke-linejoin="round"/>
<polygon points="297.30,998.23 328.07,1003.98 354.68,1020.46 373.54,1045.44 382.10,1075.54 379.22,1106.71 365.26,1134.72 342.13,1155.81 312.95,1167.12 281.65,1167.12 252.47,1155.81 229.34,1134.72 215.38,1106.71 212.50,1075.54 221.06,1045.44 239.92,1020.46 266.53,1003.98" fill="none" stroke="#D6D6D6" stroke-width="1.4" stroke-linejoin="round"/>
<polygon points="297.30,981.20 334.22,988.10 366.15,1007.87 388.79,1037.85 399.06,1073.97 395.60,1111.37 378.86,1144.99 351.10,1170.29 316.08,1183.86 278.52,1183.86 243.50,1170.29 215.74,1144.99 199.00,1111.37 195.54,1073.97 205.81,1037.85 228.45,1007.87 260.38,988.10" fill="none" stroke="#D6D6D6" stroke-width="1.4" stroke-linejoin="round"/>
<polygon points="297.30,1061.77 310.04,1050.52 327.61,1050.16 306.91,1078.62 308.67,1082.35 315.14,1088.48 307.52,1091.11 321.90,1123.13 299.26,1093.87 293.84,1101.88 290.68,1094.09 235.96,1129.72 266.27,1092.23 286.70,1082.42 281.62,1075.59 289.25,1074.57 289.72,1063.83" fill="none" stroke="#4472C4" stroke-width="3.4" stroke-linejoin="miter" stroke-miterlimit="8"/>
<polygon points="297.30,1062.24 310.11,1050.32 328.00,1049.72 306.37,1078.88 308.04,1082.40 314.15,1088.19 306.95,1090.69 321.11,1121.85 299.15,1093.29 293.99,1101.08 291.05,1093.49 240.48,1126.31 267.74,1091.81 287.33,1082.48 282.54,1076.05 289.73,1075.09 290.06,1064.72" fill="none" stroke="#ED7D31" stroke-width="3.4" stroke-linejoin="miter" stroke-miterlimit="8"/>
<polygon points="297.30,1061.77 310.26,1049.93 328.40,1049.28 306.91,1078.62 308.67,1082.35 315.14,1088.48 307.52,1091.11 321.64,1122.70 299.26,1093.87 293.92,1101.48 290.68,1094.09 239.19,1127.28 266.64,1092.12 286.70,1082.42 282.17,1075.87 289.25,1074.57 289.89,1064.28" fill="none" stroke="#A5A5A5" stroke-width="3.4" stroke-linejoin="miter" stroke-miterlimit="8"/>
<polygon points="297.30,1061.30 310.49,1049.35 329.40,1048.19 307.12,1078.51 308.92,1082.32 315.54,1088.59 307.29,1090.94 322.17,1123.56 299.21,1093.64 293.84,1101.88 290.83,1093.85 237.90,1128.26 265.90,1092.33 286.33,1082.38 281.06,1075.32 288.97,1074.26 289.55,1063.39" fill="none" stroke="#FFC000" stroke-width="3.4" stroke-linejoin="miter" stroke-miterlimit="8"/>
<polygon points="297.30,1060.83 311.32,1047.21 332.79,1044.47 307.44,1078.35 309.30,1082.29 316.13,1088.76 308.08,1091.54 322.69,1124.41 299.37,1094.45 293.73,1102.49 290.31,1094.68 236.61,1129.23 264.79,1092.65 285.83,1082.34 280.33,1074.95 288.59,1073.85 289.29,1062.72" fill="none" stroke="#5B9BD5" stroke-width="3.4" stroke-linejoin="miter" stroke-miterlimit="8"/>
<polygon points="297.30,1060.36 311.92,1045.65 335.18,1041.84 307.65,1078.24 309.56,1082.26 316.53,1088.87 308.31,1091.71 323.22,1125.27 299.41,1094.69 293.66,1102.89 290.17,1094.92 234.67,1130.70 262.94,1093.18 285.33,1082.29 279.59,1074.58 288.21,1073.43 288.94,1061.83" fill="none" stroke="#70AD47" stroke-width="3.4" stroke-linejoin="miter" stroke-miterlimit="8"/>
<polygon points="297.30,1059.89 312.38,1044.49 337.18,1039.66 307.97,1078.09 309.94,1082.23 317.12,1089.04 308.65,1091.97 323.75,1126.12 299.48,1095.04 293.54,1103.49 289.95,1095.28 232.73,1132.16 260.36,1093.91 284.83,1082.24 278.85,1074.21 287.83,1073.02 288.69,1061.16" fill="none" stroke="#264478" stroke-width="3.4" stroke-linejoin="miter" stroke-miterlimit="8"/>
<text x="284.50" y="1087.70" font-size="11.8" font-family='"Liberation Sans", sans-serif' fill="#505050" stroke="#505050" stroke-width="0.3" text-anchor="end" textLength="22.96" lengthAdjust="spacingAndGlyphs">0.00</text>
<text x="284.50" y="1070.67" font-size="11.8" font-family='"Liberation Sans", sans-serif' fill="#505050" stroke="#505050" stroke-width="0.3" text-anchor="end" textLength="22.96" lengthAdjust="spacingAndGlyphs">2.00</text>
<text x="284.50" y="1053.63" font-size="11.8" font-family='"Liberation Sans", sans-serif' fill="#505050" stroke="#505050" stroke-width="0.3" text-anchor="end" textLength="22.96" lengthAdjust="spacingAndGlyphs">4.00</text>
<text x="284.50" y="1036.60" font-size="11.8" font-family='"Liberation Sans", sans-serif' fill="#505050" stroke="#505050" stroke-width="0.3" text-anchor="end" textLength="22.96" lengthAdjust="spacingAndGlyphs">6.00</text>
<text x="284.50" y="1019.57" font-size="11.8" font-family='"Liberation Sans", sans-serif' fill="#505050" stroke="#505050" stroke-width="0.3" text-anchor="end" textLength="22.96" lengthAdjust="spacingAndGlyphs">8.00</text>
<text x="284.50" y="1002.53" font-size="11.8" font-family='"Liberation Sans", sans-serif' fill="#505050" stroke="#505050" stroke-width="0.3" text-anchor="end" textLength="29.52" lengthAdjust="spacingAndGlyphs">10.00</text>
<text x="284.50" y="985.50" font-size="11.8" font-family='"Liberation Sans", sans-serif' fill="#505050" stroke="#505050" stroke-width="0.3" text-anchor="end" textLength="29.52" lengthAdjust="spacingAndGlyphs">12.00</text>
<text x="297.70" y="972.20" font-size="11.8" font-family='"Liberation Sans", sans-serif' fill="#505050" stroke="#505050" stroke-width="0.3" text-anchor="middle" textLength="33.38" lengthAdjust="spacingAndGlyphs">TOTAL</text>
<text x="336.71" y="988.36" font-size="11.8" font-family='"Liberation Sans", sans-serif' fill="#505050" stroke="#505050" stroke-width="0.3" text-anchor="start" textLength="52.71" lengthAdjust="spacingAndGlyphs">BAOSHAN</text>
<text x="370.02" y="1008.87" font-size="11.8" font-family='"Liberation Sans", sans-serif' fill="#505050" stroke="#505050" stroke-width="0.3" text-anchor="start" textLength="70.94" lengthAdjust="spacingAndGlyphs">CHONGMING</text>
<text x="393.62" y="1039.95" font-size="11.8" font-family='"Liberation Sans", sans-serif' fill="#505050" stroke="#505050" stroke-width="0.3" text-anchor="start" textLength="54.64" lengthAdjust="spacingAndGlyphs">FENGXIAN</text>
<text x="404.35" y="1077.42" font-size="11.8" font-family='"Liberation Sans", sans-serif' fill="#505050" stroke="#505050" stroke-width="0.3" text-anchor="start" textLength="56.17" lengthAdjust="spacingAndGlyphs">HONGKOU</text>
<text x="400.73" y="1116.21" font-size="11.8" font-family='"Liberation Sans", sans-serif' fill="#505050" stroke="#505050" stroke-width="0.3" text-anchor="start" textLength="55.12" lengthAdjust="spacingAndGlyphs">HUANGPU</text>
<text x="383.27" y="1151.08" font-size="11.8" font-family='"Liberation Sans", sans-serif' fill="#505050" stroke="#505050" stroke-width="0.3" text-anchor="start" textLength="42.64" lengthAdjust="spacingAndGlyphs">JIADING</text>
<text x="354.32" y="1177.32" font-size="11.8" font-family='"Liberation Sans", sans-serif' fill="#505050" stroke="#505050" stroke-width="0.3" text-anchor="start" textLength="45.62" lengthAdjust="spacingAndGlyphs">JINSHAN</text>
<text x="317.79" y="1191.40" font-size="11.8" font-family='"Liberation Sans", sans-serif' fill="#505050" stroke="#505050" stroke-width="0.3" text-anchor="start" textLength="42.63" lengthAdjust="spacingAndGlyphs">JING'AN</text>
<text x="278.61" y="1191.40" font-size="11.8" font-family='"Liberation Sans", sans-serif' fill="#505050" stroke="#505050" stroke-width="0.3" text-anchor="end" textLength="54.79" lengthAdjust="spacingAndGlyphs">MINHANG</text>
<text x="242.08" y="1177.32" font-size="11.8" font-family='"Liberation Sans", sans-serif' fill="#505050" stroke="#505050" stroke-width="0.3" text-anchor="end" textLength="48.07" lengthAdjust="spacingAndGlyphs">PUDONG</text>
<text x="213.13" y="1151.08" font-size="11.8" font-family='"Liberation Sans", sans-serif' fill="#505050" stroke="#505050" stroke-width="0.3" text-anchor="end" textLength="38.19" lengthAdjust="spacingAndGlyphs">PUTUO</text>
<text x="195.67" y="1116.21" font-size="11.8" font-family='"Liberation Sans", sans-serif' fill="#505050" stroke="#505050" stroke-width="0.3" text-anchor="end" textLength="43.51" lengthAdjust="spacingAndGlyphs">QINGPU</text>
<text x="192.05" y="1077.42" font-size="11.8" font-family='"Liberation Sans", sans-serif' fill="#505050" stroke="#505050" stroke-width="0.3" text-anchor="end" textLength="62.47" lengthAdjust="spacingAndGlyphs">SONGJIANG</text>
<text x="202.78" y="1039.95" font-size="11.8" font-family='"Liberation Sans", sans-serif' fill="#505050" stroke="#505050" stroke-width="0.3" text-anchor="end" textLength="34.67" lengthAdjust="spacingAndGlyphs">XUHUI</text>
<text x="226.38" y="1008.87" font-size="11.8" font-family='"Liberation Sans", sans-serif' fill="#505050" stroke="#505050" stroke-width="0.3" text-anchor="end" textLength="44.37" lengthAdjust="spacingAndGlyphs">YANGPU</text>
<text x="259.69" y="988.36" font-size="11.8" font-family='"Liberation Sans", sans-serif' fill="#505050" stroke="#505050" stroke-width="0.3" text-anchor="end" textLength="67.15" lengthAdjust="spacingAndGlyphs">CHANGNING</text>
<line x1="599.6" y1="1009.90" x2="627.5" y2="1009.90" stroke="#4472C4" stroke-width="3.2" stroke-linecap="round"/>
<text x="630.90" y="1014.20" font-size="11.8" font-family='"Liberation Sans", "Noto Sans CJK SC", sans-serif' fill="#505050" stroke="#505050" stroke-width="0.3"><tspan textLength="26.26" lengthAdjust="spacingAndGlyphs">2010</tspan><tspan x="657.36" dy="-1.0" font-size="12.6" stroke-width="0.15">年</tspan></text>
<line x1="599.6" y1="1034.30" x2="627.5" y2="1034.30" stroke="#ED7D31" stroke-width="3.2" stroke-linecap="round"/>
<text x="630.90" y="1038.60" font-size="11.8" font-family='"Liberation Sans", "Noto Sans CJK SC", sans-serif' fill="#505050" stroke="#505050" stroke-width="0.3"><tspan textLength="26.26" lengthAdjust="spacingAndGlyphs">2011</tspan><tspan x="657.36" dy="-1.0" font-size="12.6" stroke-width="0.15">年</tspan></text>
<line x1="599.6" y1="1058.70" x2="627.5" y2="1058.70" stroke="#A5A5A5" stroke-width="3.2" stroke-linecap="round"/>
<text x="630.90" y="1063.00" font-size="11.8" font-family='"Liberation Sans", "Noto Sans CJK SC", sans-serif' fill="#505050" stroke="#505050" stroke-width="0.3"><tspan textLength="26.26" lengthAdjust="spacingAndGlyphs">2012</tspan><tspan x="657.36" dy="-1.0" font-size="12.6" stroke-width="0.15">年</tspan></text>
<line x1="599.6" y1="1083.10" x2="627.5" y2="1083.10" stroke="#FFC000" stroke-width="3.2" stroke-linecap="round"/>
<text x="630.90" y="1087.40" font-size="11.8" font-family='"Liberation Sans", "Noto Sans CJK SC", sans-serif' fill="#505050" stroke="#505050" stroke-width="0.3"><tspan textLength="26.26" lengthAdjust="spacingAndGlyphs">2013</tspan><tspan x="657.36" dy="-1.0" font-size="12.6" stroke-width="0.15">年</tspan></text>
<line x1="599.6" y1="1107.50" x2="627.5" y2="1107.50" stroke="#5B9BD5" stroke-width="3.2" stroke-linecap="round"/>
<text x="630.90" y="1111.80" font-size="11.8" font-family='"Liberation Sans", "Noto Sans CJK SC", sans-serif' fill="#505050" stroke="#505050" stroke-width="0.3"><tspan textLength="26.26" lengthAdjust="spacingAndGlyphs">2014</tspan><tspan x="657.36" dy="-1.0" font-size="12.6" stroke-width="0.15">年</tspan></text>
<line x1="599.6" y1="1131.90" x2="627.5" y2="1131.90" stroke="#70AD47" stroke-width="3.2" stroke-linecap="round"/>
<text x="630.90" y="1136.20" font-size="11.8" font-family='"Liberation Sans", "Noto Sans CJK SC", sans-serif' fill="#505050" stroke="#505050" stroke-width="0.3"><tspan textLength="26.26" lengthAdjust="spacingAndGlyphs">2015</tspan><tspan x="657.36" dy="-1.0" font-size="12.6" stroke-width="0.15">年</tspan></text>
<line x1="599.6" y1="1156.30" x2="627.5" y2="1156.30" stroke="#264478" stroke-width="3.2" stroke-linecap="round"/>
<text x="630.90" y="1160.60" font-size="11.8" font-family='"Liberation Sans", "Noto Sans CJK SC", sans-serif' fill="#505050" stroke="#505050" stroke-width="0.3"><tspan textLength="26.26" lengthAdjust="spacingAndGlyphs">2016</tspan><tspan x="657.36" dy="-1.0" font-size="12.6" stroke-width="0.15">年</tspan></text>
<rect x="4" y="1254.5" width="676.5" height="247.70000000000005" fill="#fff" stroke="#DCDCDC" stroke-width="1"/>
<text x="-0.70" y="1242.40" font-size="25.5" font-family='"Liberation Serif", serif' fill="#000" stroke="#000" stroke-width="0.25" text-anchor="start">(e)</text>
<polygon points="302.70,1362.80 308.48,1363.88 313.48,1366.98 317.02,1371.67 318.63,1377.32 318.09,1383.18 315.47,1388.44 311.12,1392.40 305.64,1394.53 299.76,1394.53 294.28,1392.40 289.93,1388.44 287.31,1383.18 286.77,1377.32 288.38,1371.67 291.92,1366.98 296.92,1363.88" fill="none" stroke="#D6D6D6" stroke-width="1.4" stroke-linejoin="round"/>
<polygon points="302.70,1346.80 314.26,1348.96 324.26,1355.15 331.35,1364.54 334.56,1375.85 333.48,1387.56 328.24,1398.08 319.55,1406.01 308.58,1410.26 296.82,1410.26 285.85,1406.01 277.16,1398.08 271.92,1387.56 270.84,1375.85 274.05,1364.54 281.14,1355.15 291.14,1348.96" fill="none" stroke="#D6D6D6" stroke-width="1.4" stroke-linejoin="round"/>
<polygon points="302.70,1330.80 320.04,1334.04 335.04,1343.33 345.67,1357.40 350.50,1374.37 348.87,1391.94 341.00,1407.73 327.97,1419.61 311.52,1425.98 293.88,1425.98 277.43,1419.61 264.40,1407.73 256.53,1391.94 254.90,1374.37 259.73,1357.40 270.36,1343.33 285.36,1334.04" fill="none" stroke="#D6D6D6" stroke-width="1.4" stroke-linejoin="round"/>
<polygon points="302.70,1314.80 325.82,1319.12 345.82,1331.50 359.99,1350.27 366.43,1372.89 364.26,1396.31 353.77,1417.37 336.39,1433.21 314.46,1441.71 290.94,1441.71 269.01,1433.21 251.63,1417.37 241.14,1396.31 238.97,1372.89 245.41,1350.27 259.58,1331.50 279.58,1319.12" fill="none" stroke="#D6D6D6" stroke-width="1.4" stroke-linejoin="round"/>
<polygon points="302.70,1298.80 331.60,1304.20 356.60,1319.68 374.31,1343.14 382.36,1371.42 379.65,1400.69 366.54,1427.01 344.81,1446.82 317.40,1457.44 288.00,1457.44 260.59,1446.82 238.86,1427.01 225.75,1400.69 223.04,1371.42 231.09,1343.14 248.80,1319.68 273.80,1304.20" fill="none" stroke="#D6D6D6" stroke-width="1.4" stroke-linejoin="round"/>
<polygon points="302.70,1282.80 337.38,1289.28 367.37,1307.86 388.64,1336.01 398.29,1369.94 395.04,1405.07 379.31,1436.65 353.24,1460.42 320.34,1473.17 285.06,1473.17 252.16,1460.42 226.09,1436.65 210.36,1405.07 207.11,1369.94 216.76,1336.01 238.03,1307.86 268.02,1289.28" fill="none" stroke="#D6D6D6" stroke-width="1.4" stroke-linejoin="round"/>
<polygon points="302.70,1358.67 307.24,1367.08 316.24,1363.95 314.62,1372.86 337.06,1375.62 374.30,1399.17 312.17,1385.95 312.40,1394.46 310.61,1421.13 300.45,1390.82 295.80,1389.94 288.41,1389.59 292.05,1381.83 294.30,1378.02 254.01,1354.56 290.51,1365.43 290.26,1346.69" fill="none" stroke="#5B9BD5" stroke-width="3.2" stroke-linejoin="round" stroke-miterlimit="8"/>
<polygon points="302.70,1359.00 307.05,1367.58 315.92,1364.30 314.14,1373.10 336.21,1375.69 373.14,1398.84 311.55,1385.48 312.16,1394.07 310.36,1419.76 300.51,1390.52 295.97,1389.67 288.76,1389.33 292.50,1381.70 295.04,1378.09 254.80,1354.95 291.37,1366.38 290.79,1348.05" fill="none" stroke="#ED7D31" stroke-width="3.2" stroke-linejoin="round" stroke-miterlimit="8"/>
<polygon points="302.70,1358.35 307.24,1367.08 316.24,1363.95 314.62,1372.86 337.63,1375.56 375.46,1399.50 312.17,1385.95 312.56,1394.72 310.61,1421.13 300.42,1391.02 295.69,1390.12 288.17,1389.77 291.78,1381.91 294.16,1378.01 253.22,1354.16 290.30,1365.20 290.16,1346.42" fill="none" stroke="#A5A5A5" stroke-width="3.2" stroke-linejoin="round" stroke-miterlimit="8"/>
<polygon points="302.70,1358.18 307.35,1366.78 316.98,1363.14 314.82,1372.77 337.06,1375.62 374.30,1399.17 312.33,1386.07 312.40,1394.46 310.49,1420.45 300.42,1391.02 295.69,1390.12 288.17,1389.77 292.05,1381.83 294.45,1378.04 254.01,1354.56 290.51,1365.43 290.37,1346.96" fill="none" stroke="#FFC000" stroke-width="3.2" stroke-linejoin="round" stroke-miterlimit="8"/>
<polygon points="302.70,1357.69 307.55,1366.29 316.45,1363.72 315.11,1372.62 339.33,1375.41 377.79,1400.16 312.64,1386.30 312.96,1395.36 310.93,1422.85 300.34,1391.42 295.46,1390.49 287.58,1390.22 291.33,1382.04 293.41,1377.94 251.64,1353.38 289.22,1364.02 289.21,1343.98" fill="none" stroke="#4472C4" stroke-width="3.2" stroke-linejoin="round" stroke-miterlimit="8"/>
<polygon points="302.70,1357.37 307.62,1366.09 316.56,1363.60 315.30,1372.53 338.76,1375.46 377.20,1400.00 312.79,1386.42 313.04,1395.49 311.00,1423.19 300.30,1391.61 295.35,1390.68 287.35,1390.39 291.06,1382.11 293.19,1377.92 251.64,1353.38 288.90,1363.66 289.00,1343.43" fill="none" stroke="#70AD47" stroke-width="3.2" stroke-linejoin="round" stroke-miterlimit="8"/>
<polygon points="302.70,1357.04 307.82,1365.60 316.77,1363.37 315.59,1372.38 340.46,1375.30 380.11,1400.82 313.11,1386.66 313.35,1396.01 311.26,1424.57 300.23,1392.01 295.12,1391.04 287.00,1390.66 290.70,1382.22 292.82,1377.88 250.06,1352.59 288.36,1363.07 288.68,1342.62" fill="none" stroke="#255E91" stroke-width="3.2" stroke-linejoin="round" stroke-miterlimit="8"/>
<text x="289.90" y="1383.10" font-size="11.8" font-family='"Liberation Sans", sans-serif' fill="#505050" stroke="#505050" stroke-width="0.3" text-anchor="end" textLength="6.56" lengthAdjust="spacingAndGlyphs">0</text>
<text x="289.90" y="1367.10" font-size="11.8" font-family='"Liberation Sans", sans-serif' fill="#505050" stroke="#505050" stroke-width="0.3" text-anchor="end" textLength="6.56" lengthAdjust="spacingAndGlyphs">2</text>
<text x="289.90" y="1351.10" font-size="11.8" font-family='"Liberation Sans", sans-serif' fill="#505050" stroke="#505050" stroke-width="0.3" text-anchor="end" textLength="6.56" lengthAdjust="spacingAndGlyphs">4</text>
<text x="289.90" y="1335.10" font-size="11.8" font-family='"Liberation Sans", sans-serif' fill="#505050" stroke="#505050" stroke-width="0.3" text-anchor="end" textLength="6.56" lengthAdjust="spacingAndGlyphs">6</text>
<text x="289.90" y="1319.10" font-size="11.8" font-family='"Liberation Sans", sans-serif' fill="#505050" stroke="#505050" stroke-width="0.3" text-anchor="end" textLength="6.56" lengthAdjust="spacingAndGlyphs">8</text>
<text x="289.90" y="1303.10" font-size="11.8" font-family='"Liberation Sans", sans-serif' fill="#505050" stroke="#505050" stroke-width="0.3" text-anchor="end" textLength="13.13" lengthAdjust="spacingAndGlyphs">10</text>
<text x="289.90" y="1287.10" font-size="11.8" font-family='"Liberation Sans", sans-serif' fill="#505050" stroke="#505050" stroke-width="0.3" text-anchor="end" textLength="13.13" lengthAdjust="spacingAndGlyphs">12</text>
<text x="303.10" y="1274.20" font-size="11.8" font-family='"Liberation Sans", sans-serif' fill="#505050" stroke="#505050" stroke-width="0.3" text-anchor="middle" textLength="27.12" lengthAdjust="spacingAndGlyphs">Total</text>
<text x="339.32" y="1289.91" font-size="11.8" font-family='"Liberation Sans", sans-serif' fill="#505050" stroke="#505050" stroke-width="0.3" text-anchor="start" textLength="52.71" lengthAdjust="spacingAndGlyphs">BAOSHAN</text>
<text x="370.57" y="1309.14" font-size="11.8" font-family='"Liberation Sans", sans-serif' fill="#505050" stroke="#505050" stroke-width="0.3" text-anchor="start" textLength="70.94" lengthAdjust="spacingAndGlyphs">CHONGMING</text>
<text x="392.72" y="1338.29" font-size="11.8" font-family='"Liberation Sans", sans-serif' fill="#505050" stroke="#505050" stroke-width="0.3" text-anchor="start" textLength="54.64" lengthAdjust="spacingAndGlyphs">FENGXIAN</text>
<text x="402.77" y="1373.43" font-size="11.8" font-family='"Liberation Sans", sans-serif' fill="#505050" stroke="#505050" stroke-width="0.3" text-anchor="start" textLength="54.22" lengthAdjust="spacingAndGlyphs">KONGKOU</text>
<text x="399.38" y="1409.80" font-size="11.8" font-family='"Liberation Sans", sans-serif' fill="#505050" stroke="#505050" stroke-width="0.3" text-anchor="start" textLength="55.12" lengthAdjust="spacingAndGlyphs">HUANGPU</text>
<text x="383.00" y="1442.50" font-size="11.8" font-family='"Liberation Sans", sans-serif' fill="#505050" stroke="#505050" stroke-width="0.3" text-anchor="start" textLength="42.64" lengthAdjust="spacingAndGlyphs">JIADING</text>
<text x="355.84" y="1467.11" font-size="11.8" font-family='"Liberation Sans", sans-serif' fill="#505050" stroke="#505050" stroke-width="0.3" text-anchor="start" textLength="45.62" lengthAdjust="spacingAndGlyphs">JINSHAN</text>
<text x="321.57" y="1480.31" font-size="11.8" font-family='"Liberation Sans", sans-serif' fill="#505050" stroke="#505050" stroke-width="0.3" text-anchor="start" textLength="42.63" lengthAdjust="spacingAndGlyphs">JING'AN</text>
<text x="284.83" y="1480.31" font-size="11.8" font-family='"Liberation Sans", sans-serif' fill="#505050" stroke="#505050" stroke-width="0.3" text-anchor="end" textLength="54.79" lengthAdjust="spacingAndGlyphs">MINHANG</text>
<text x="250.56" y="1467.11" font-size="11.8" font-family='"Liberation Sans", sans-serif' fill="#505050" stroke="#505050" stroke-width="0.3" text-anchor="end" textLength="48.07" lengthAdjust="spacingAndGlyphs">PUDONG</text>
<text x="223.40" y="1442.50" font-size="11.8" font-family='"Liberation Sans", sans-serif' fill="#505050" stroke="#505050" stroke-width="0.3" text-anchor="end" textLength="38.19" lengthAdjust="spacingAndGlyphs">PUTUO</text>
<text x="207.02" y="1409.80" font-size="11.8" font-family='"Liberation Sans", sans-serif' fill="#505050" stroke="#505050" stroke-width="0.3" text-anchor="end" textLength="43.51" lengthAdjust="spacingAndGlyphs">QINGPU</text>
<text x="203.63" y="1373.43" font-size="11.8" font-family='"Liberation Sans", sans-serif' fill="#505050" stroke="#505050" stroke-width="0.3" text-anchor="end" textLength="62.47" lengthAdjust="spacingAndGlyphs">SONGJIANG</text>
<text x="213.68" y="1338.29" font-size="11.8" font-family='"Liberation Sans", sans-serif' fill="#505050" stroke="#505050" stroke-width="0.3" text-anchor="end" textLength="34.67" lengthAdjust="spacingAndGlyphs">XUHUI</text>
<text x="235.83" y="1309.14" font-size="11.8" font-family='"Liberation Sans", sans-serif' fill="#505050" stroke="#505050" stroke-width="0.3" text-anchor="end" textLength="44.37" lengthAdjust="spacingAndGlyphs">YANGPU</text>
<text x="267.08" y="1289.91" font-size="11.8" font-family='"Liberation Sans", sans-serif' fill="#505050" stroke="#505050" stroke-width="0.3" text-anchor="end" textLength="67.15" lengthAdjust="spacingAndGlyphs">CHANGNING</text>
<line x1="608.8" y1="1305.30" x2="636.1" y2="1305.30" stroke="#5B9BD5" stroke-width="3.2" stroke-linecap="round"/>
<text x="639.90" y="1309.60" font-size="11.8" font-family='"Liberation Sans", sans-serif' fill="#505050" stroke="#505050" stroke-width="0.3" text-anchor="start" textLength="26.26" lengthAdjust="spacingAndGlyphs">2010</text>
<line x1="608.8" y1="1329.68" x2="636.1" y2="1329.68" stroke="#ED7D31" stroke-width="3.2" stroke-linecap="round"/>
<text x="639.90" y="1333.98" font-size="11.8" font-family='"Liberation Sans", sans-serif' fill="#505050" stroke="#505050" stroke-width="0.3" text-anchor="start" textLength="26.26" lengthAdjust="spacingAndGlyphs">2011</text>
<line x1="608.8" y1="1354.06" x2="636.1" y2="1354.06" stroke="#A5A5A5" stroke-width="3.2" stroke-linecap="round"/>
<text x="639.90" y="1358.36" font-size="11.8" font-family='"Liberation Sans", sans-serif' fill="#505050" stroke="#505050" stroke-width="0.3" text-anchor="start" textLength="26.26" lengthAdjust="spacingAndGlyphs">2012</text>
<line x1="608.8" y1="1378.44" x2="636.1" y2="1378.44" stroke="#FFC000" stroke-width="3.2" stroke-linecap="round"/>
<text x="639.90" y="1382.74" font-size="11.8" font-family='"Liberation Sans", sans-serif' fill="#505050" stroke="#505050" stroke-width="0.3" text-anchor="start" textLength="26.26" lengthAdjust="spacingAndGlyphs">2013</text>
<line x1="608.8" y1="1402.82" x2="636.1" y2="1402.82" stroke="#4472C4" stroke-width="3.2" stroke-linecap="round"/>
<text x="639.90" y="1407.12" font-size="11.8" font-family='"Liberation Sans", sans-serif' fill="#505050" stroke="#505050" stroke-width="0.3" text-anchor="start" textLength="26.26" lengthAdjust="spacingAndGlyphs">2014</text>
<line x1="608.8" y1="1427.20" x2="636.1" y2="1427.20" stroke="#70AD47" stroke-width="3.2" stroke-linecap="round"/>
<text x="639.90" y="1431.50" font-size="11.8" font-family='"Liberation Sans", sans-serif' fill="#505050" stroke="#505050" stroke-width="0.3" text-anchor="start" textLength="26.26" lengthAdjust="spacingAndGlyphs">2015</text>
<line x1="608.8" y1="1451.58" x2="636.1" y2="1451.58" stroke="#255E91" stroke-width="3.2" stroke-linecap="round"/>
<text x="639.90" y="1455.88" font-size="11.8" font-family='"Liberation Sans", sans-serif' fill="#505050" stroke="#505050" stroke-width="0.3" text-anchor="start" textLength="26.26" lengthAdjust="spacingAndGlyphs">2016</text>
</svg></body></html>
